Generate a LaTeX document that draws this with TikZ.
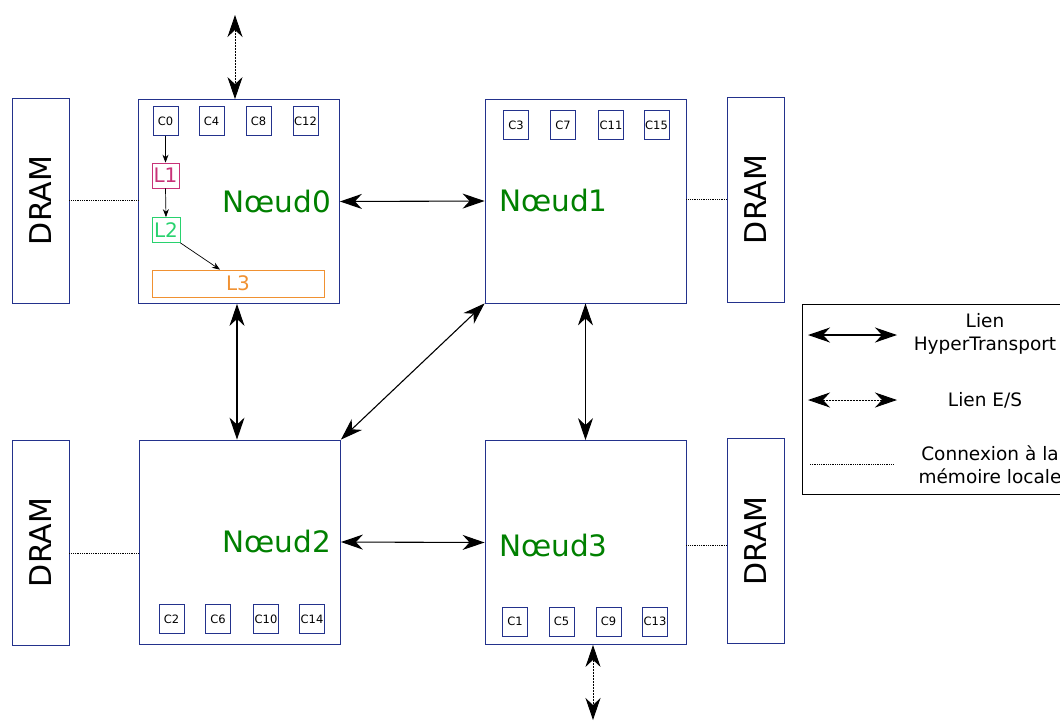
\documentclass[tikz,border=0pt]{standalone}
\usepackage{fontspec}
\setmainfont{DejaVu Sans}
\usetikzlibrary{arrows.meta}

\definecolor{boxblue}{RGB}{35,50,140}
\definecolor{noeudgreen}{RGB}{0,128,0}
\definecolor{lunrose}{RGB}{200,50,120}
\definecolor{ldeuxvert}{RGB}{40,210,110}
\definecolor{ltroisorange}{RGB}{240,145,50}

\tikzset{
  noeud/.style={draw=boxblue, line width=0.8pt, minimum width=201pt, minimum height=204pt, inner sep=0pt},
  coeur/.style={draw=boxblue, line width=0.8pt, minimum width=25pt, minimum height=29pt, inner sep=0pt, font=\fontsize{11.5}{13}\selectfont},
  dram/.style={draw=boxblue, line width=0.8pt, minimum width=57pt, minimum height=205pt, inner sep=0pt, font=\fontsize{30}{34}\selectfont},
  cache/.style={draw, line width=0.7pt, inner sep=0pt, minimum height=25pt, font=\fontsize{20}{22}\selectfont},
  nom/.style={text=noeudgreen, inner sep=0pt, font=\fontsize{29.5}{33}\selectfont},
  ht/.style={{Stealth[length=22pt,width=15pt,inset=7pt]}-{Stealth[length=22pt,width=15pt,inset=7pt]}, line width=1.1pt},
  es/.style={ht, line width=0.9pt, dash pattern=on 2pt off 1pt},
  mem/.style={densely dotted, line width=0.8pt},
  petit/.style={-{Stealth[length=8pt,width=6pt]}, line width=0.7pt},
  legende/.style={align=center, inner sep=0pt, font=\fontsize{18.5}{23}\selectfont},
}

\begin{document}
\begin{tikzpicture}[x=1pt,y=-1pt]
    \useasboundingbox (0,0) rectangle (1060,724);
    % les quatre noeuds
    \node[noeud] (n0) at (239,201.5) {};
    \node[noeud] (n1) at (585.5,201) {};
    \node[noeud] (n2) at (240,542) {};
    \node[noeud] (n3) at (585.5,542.5) {};
    % memoires
    \node[dram] (d0) at (40.5,200.5) {\rotatebox{90}{DRAM}};
    \node[dram] (d1) at (755.5,199.5) {\rotatebox{90}{DRAM}};
    \node[dram] (d2) at (40.5,542.5) {\rotatebox{90}{DRAM}};
    \node[dram] (d3) at (755.5,541) {\rotatebox{90}{DRAM}};
    % coeurs
    \foreach \c/\x in {0/165.5,4/211.5,8/258.5,12/305.5}
      \node[coeur] (c\c) at (\x,121) {C\c};
    \foreach \c/\x in {3/516,7/563,11/611,15/656.5}
      \node[coeur] (c\c) at (\x,125) {C\c};
    \foreach \c/\x in {2/171.5,6/218,10/266,14/312}
      \node[coeur] (c\c) at (\x,619) {C\c};
    \foreach \c/\x in {1/515,5/561.5,9/608.5,13/655}
      \node[coeur] (c\c) at (\x,621.5) {C\c};
    % caches
    \node[cache, draw=lunrose, text=lunrose, minimum width=27pt] (l1) at (165.5,175.5) {L1};
    \node[cache, draw=ldeuxvert, text=ldeuxvert, minimum width=28pt] (l2) at (166,230) {L2};
    \node[cache, draw=ltroisorange, text=ltroisorange, minimum width=172pt, minimum height=27pt] (l3) at (238,283.5) {L3};
    \draw[petit] (c0.south) -- (l1.north);
    \draw[petit] (l1.south) -- (l2.north);
    \draw[petit] (l2.south east) -- (l3.north -| 220,0);
    % noms
    \node[nom, anchor=east] (t0) at (331,201) {Nœud0};
    \node[nom, anchor=west] (t1) at (499,200) {Nœud1};
    \node[nom, anchor=east] (t2) at (331,541) {Nœud2};
    \node[nom, anchor=west] (t3) at (499,545) {Nœud3};
    % liens HyperTransport
    \draw[ht] (n0.east) -- (n1.west);
    \draw[ht] (n2.east) -- (n3.west);
    \draw[ht] (n0.south -| 237,0) -- (n2.north -| 237,0);
    \draw[ht] (n1.south) -- (n3.north);
    \draw[ht] (n1.south west) -- (n2.north east);
    % liens E/S
    \coordinate (io0) at (235,15);
    \coordinate (io3) at (593,720);
    \draw[es] (io0) -- (io0 |- n0.north);
    \draw[es] (io3 |- n3.south) -- (io3);
    % connexions memoire
    \draw[mem] (d0.east) -- (d0.east -| n0.west);
    \draw[mem] (n1.east |- d1.west) -- (d1.west);
    \draw[mem] ([yshift=-10.5pt]d2.east) -- ([yshift=-10.5pt]d2.east -| n2.west);
    \draw[mem] ([yshift=-4pt]d3.west -| n3.east) -- ([yshift=-4pt]d3.west);
    % legende
    \draw[line width=0.8pt] (802,304) rectangle (1075,494);
    \coordinate (a1) at (808,335);
    \coordinate (b1) at (897,335);
    \coordinate (a2) at (808,400);
    \coordinate (b2) at (897,400);
    \coordinate (a3) at (810,464);
    \coordinate (b3) at (893,464);
    \draw[ht] (a1) -- (b1);
    \draw[es] (a2) -- (b2);
    \draw[mem] (a3) -- (b3);
    \node[legende] (e1) at (985,334) {Lien\\HyperTransport};
    \node[legende] (e2) at (985,400) {Lien E/S};
    \node[legende] (e3) at (990,465) {Connexion à la\\mémoire locale};
\end{tikzpicture}
\end{document}
